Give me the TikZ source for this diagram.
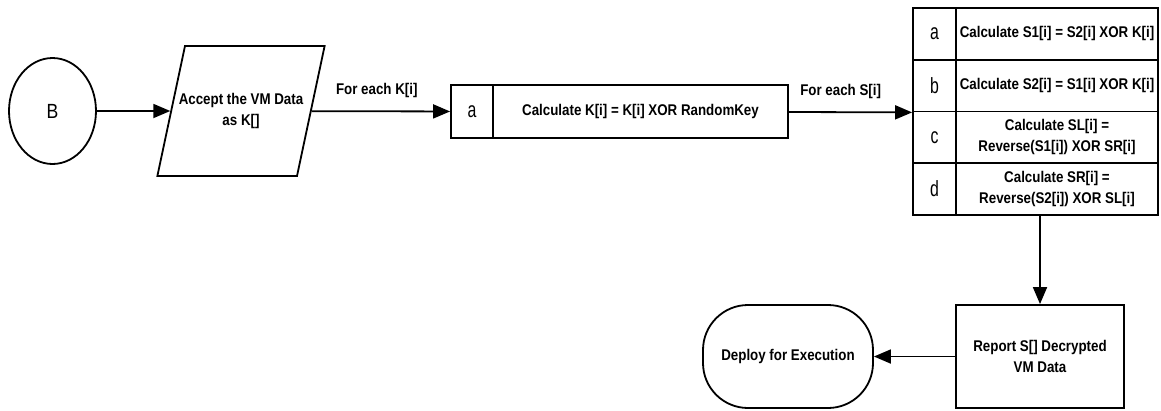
\documentclass[tikz,border=0pt]{standalone}
\usepackage{fontspec}
\setmainfont{Liberation Sans}[FakeStretch=0.86]
\newfontfamily\keyfont{Liberation Sans}[FakeStretch=0.72]
\usetikzlibrary{arrows.meta,shapes.geometric}

\begin{document}
\begin{tikzpicture}[
  x=1pt, y=1pt, line width=1.8pt,
  txt/.style={font=\fontsize{15.5}{21}\selectfont\bfseries, align=center},
  circ/.style={draw, ellipse, minimum width=87pt, minimum height=106pt,
               inner sep=0pt, font=\fontsize{20.5}{24}\selectfont},
  dataio/.style={draw, trapezium, trapezium left angle=78, trapezium right angle=102,
               inner xsep=56pt, inner ysep=65pt},
  keycell/.style={draw, minimum width=43pt, minimum height=51.75pt, inner sep=0pt,
               font=\keyfont\fontsize{22}{24}\selectfont},
  rowcell/.style={draw, minimum width=202pt, minimum height=51.75pt, inner sep=0pt, txt},
  stepbox/.style={draw, minimum width=168pt, minimum height=103pt, inner sep=0pt, txt},
  term/.style={stepbox, rounded corners=45pt, minimum width=170pt},
  flow/.style={-{Triangle[length=17pt,width=14pt]}, line width=1.8pt},
  tag/.style={font=\fontsize{15.5}{18}\selectfont\bfseries, inner sep=0pt, above=13pt},
]
  \useasboundingbox (0,0) rectangle (1161,-410);

  % Entry point and input data
  \node[circ] (start) at (52.5,-111) {B};
  \node[dataio, label={[txt]center:Accept the VM Data\\ as K[]}] (io) at (241,-111) {};

  % First pass over the key
  \node[keycell, minimum width=42pt, minimum height=53pt] (pa) at (472,-111.5) {a};
  \node[rowcell, minimum width=295pt, minimum height=53pt] (pa-t) at (640.5,-111.5)
    {Calculate K[i] = K[i] XOR RandomKey};

  % Second pass: four steps per S[i]
  \node[keycell] (sa) at (934.5,-33.875) {a};
  \node[rowcell] (sa-t) at (1057,-33.875) {Calculate S1[i] = S2[i] XOR K[i]};
  \node[keycell] (sb) at (934.5,-85.625) {b};
  \node[rowcell] (sb-t) at (1057,-85.625) {Calculate S2[i] = S1[i] XOR K[i]};
  \node[keycell] (sc) at (934.5,-137.375) {c};
  \node[rowcell] (sc-t) at (1057,-137.375) {Calculate SL[i] =\\ Reverse(S1[i]) XOR SR[i]};
  \node[keycell] (sd) at (934.5,-189.125) {d};
  \node[rowcell] (sd-t) at (1057,-189.125) {Calculate SR[i] =\\ Reverse(S2[i]) XOR SL[i]};

  % Output
  \node[stepbox] (report) at (1040,-356.5) {Report S[] Decrypted\\ VM Data};
  \node[term] (deploy) at (788,-356.5) {Deploy for Execution};

  \draw[flow] (start) -- (io);
  \draw[flow] (io) -- node[tag, pos=0.47] {For each K[i]} (pa);
  \draw[flow] (pa-t) -- node[tag, pos=0.42] {For each S[i]} (sb.south west);
  \draw[flow] (report.north |- sd-t.south) -- (report.north);
  \draw[flow] (report) -- (deploy);
\end{tikzpicture}
\end{document}
